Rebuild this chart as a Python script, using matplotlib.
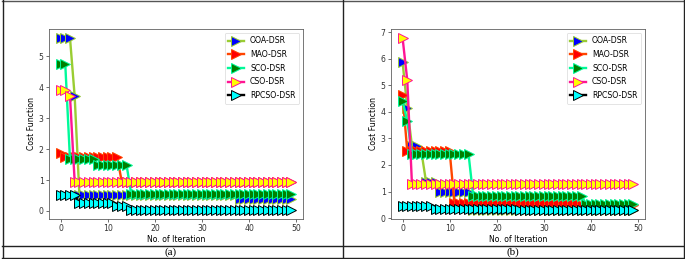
import matplotlib
matplotlib.use("Agg")
import matplotlib.pyplot as plt
import numpy as np
from matplotlib.lines import Line2D

# iterations 0..49, convergence curves stored as step levels + run lengths
iters = np.arange(50)
names = ["OOA-DSR", "MAO-DSR", "SCO-DSR", "CSO-DSR", "RPCSO-DSR"]

# panel (a)
ooa_a_lvl = [5.6, 3.7, 0.52, 0.38]
ooa_a_run = [3, 1, 34, 12]
mao_a_lvl = [1.86, 1.75, 0.94]
mao_a_run = [1, 12, 37]
sco_a_lvl = [4.75, 1.68, 1.5, 0.54]
sco_a_run = [2, 6, 7, 35]
cso_a_lvl = [3.9, 3.72, 0.94]
cso_a_run = [2, 1, 47]
rpc_a_lvl = [0.52, 0.25, 0.17, 0.02]
rpc_a_run = [4, 8, 3, 35]

# panel (b)
ooa_b_lvl = [5.9, 4.15, 2.72, 2.5, 1.35, 1.0, 0.3]
ooa_b_run = [1, 1, 2, 1, 3, 7, 35]
mao_b_lvl = [4.65, 2.52, 0.58, 0.5]
mao_b_run = [1, 10, 27, 12]
sco_b_lvl = [4.42, 3.65, 2.42, 0.82, 0.52]
sco_b_run = [1, 1, 13, 24, 11]
cso_b_lvl = [6.8, 5.2, 1.27]
cso_b_run = [1, 1, 48]
rpc_b_lvl = [0.47, 0.34, 0.29]
rpc_b_run = [7, 18, 25]

line_cols = ["yellowgreen", "orangered", "mediumspringgreen", "deeppink", "black"]
face_cols = ["blue", "red", "green", "yellow", "cyan"]

panels = [
    [(ooa_a_lvl, ooa_a_run), (mao_a_lvl, mao_a_run), (sco_a_lvl, sco_a_run),
     (cso_a_lvl, cso_a_run), (rpc_a_lvl, rpc_a_run)],
    [(ooa_b_lvl, ooa_b_run), (mao_b_lvl, mao_b_run), (sco_b_lvl, sco_b_run),
     (cso_b_lvl, cso_b_run), (rpc_b_lvl, rpc_b_run)],
]

W, H = 685, 259
fig = plt.figure(figsize=(W / 100, H / 100), dpi=100)

fs = 5.6
lefts = [49, 391]
for k, series in enumerate(panels):
    ax = fig.add_axes([lefts[k] / W, 1 - 219 / H, 254 / W, 190 / H])
    for i, (lvl, run) in enumerate(series):
        y = np.repeat(lvl, run)
        ax.plot(iters, y, color=line_cols[i], lw=1.7, marker=">", ms=7,
                markerfacecolor=face_cols[i], markeredgecolor=line_cols[i],
                markeredgewidth=0.7, label=names[i])
    ax.set_xlabel("No. of Iteration", fontsize=fs, labelpad=1.5)
    ax.set_ylabel("Cost Function", fontsize=fs, labelpad=2)
    ax.set_xticks([0, 10, 20, 30, 40, 50])
    ax.tick_params(labelsize=fs, length=2, width=0.5, pad=1.8, colors="#333333")
    for s in ax.spines.values():
        s.set_linewidth(0.6)
        s.set_color("#606060")
    leg = ax.legend(loc="upper right", fontsize=fs, handlelength=2, borderpad=0.45,
                    labelspacing=0.6, framealpha=1, edgecolor="#d0d0d0")
    leg.get_frame().set_linewidth(0.4)

# table-like frame around the two figures with captions
def hline(y, x0=2, x1=684, c="#222222", lw=1.0):
    fig.add_artist(Line2D([x0 / W, x1 / W], [1 - y / H, 1 - y / H], color=c, lw=lw))

def vline(x, y0=0, y1=258, c="#222222", lw=1.0):
    fig.add_artist(Line2D([x / W, x / W], [1 - y0 / H, 1 - y1 / H], color=c, lw=lw))

hline(0.5, c="#555555")
hline(245.5)
hline(258)
vline(2.5)
vline(342.5)
vline(684)

fig.text(171 / W, 1 - 252 / H, "(a)", ha="center", va="center",
         family="Liberation Serif", fontsize=8)
fig.text(513 / W, 1 - 252 / H, "(b)", ha="center", va="center",
         family="Liberation Serif", fontsize=8)

fig.savefig("out.png", dpi=100)
